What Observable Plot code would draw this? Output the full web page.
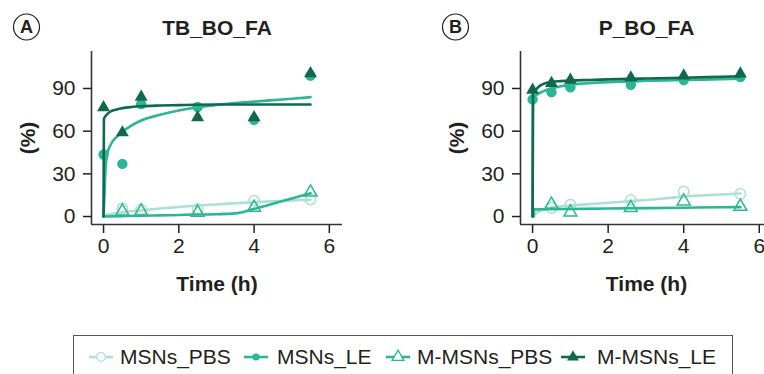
<!DOCTYPE html>
<html><head><meta charset="utf-8">
<script src="https://cdn.jsdelivr.net/npm/d3@7"></script>
<script src="https://cdn.jsdelivr.net/npm/@observablehq/plot@0.6"></script>
<style>
html,body{margin:0;padding:0;background:#fff;overflow:hidden;}
#root{position:relative;width:764px;height:374px;overflow:hidden;font-family:"Liberation Sans",Arial,sans-serif;color:#231f20;}
.panel{position:absolute;top:0;}
#legend{position:absolute;left:73px;top:335px;width:660px;height:60px;border:1px solid #555;box-sizing:border-box;}
.sw{position:absolute;top:349px;}
.lt{position:absolute;top:345px;font-size:21px;line-height:24px;white-space:nowrap;color:#231f20;}
</style>
</head><body>
<div id="root"><div id="legend"></div></div>
<script>
// ---- data ----
const seriesNames = ["MSNs_PBS", "MSNs_LE", "M-MSNs_PBS", "M-MSNs_LE"];
const seriesColors = ["#addfd2", "#2cb697", "#2cb697", "#10684d"];
const panelTitles = ["TB_BO_FA", "P_BO_FA"];
const panelLetters = ["A", "B"];
const xTicks = [0, 2, 4, 6];
const yTicks = [0, 30, 60, 90];

// measured points, panel A
const timeA = [0, 0.5, 1, 2.5, 4, 5.5];
const A_MSNs_PBS = [null, 5.6, 5.0, 5.3, 11.2, 12.0];
const A_MSNs_LE = [43.6, 37.0, 79.0, 77.0, 68.0, 99.0];
const A_M_MSNs_PBS = [null, 3.7, 3.7, 2.8, 6.3, 17.0];
const A_M_MSNs_LE = [76.6, 59.0, 84.0, 69.6, 69.6, 100.5];

// measured points, panel B
const timeB = [0, 0.5, 1, 2.6, 4, 5.5];
const B_MSNs_PBS = [null, 6.0, 8.4, 11.7, 17.6, 16.0];
const B_MSNs_LE = [82.3, 87.4, 90.9, 92.6, 96.0, 98.0];
const B_M_MSNs_PBS = [null, 8.4, 3.0, 6.1, 10.8, 7.0];
const B_M_MSNs_LE = [89.0, 93.7, 96.0, 97.5, 99.0, 100.3];

// fitted curves, panel A
const fitA_MSNs_PBS_t = [0, 0.5, 1, 1.5, 2, 2.5, 3, 3.5, 4, 4.5, 5, 5.5];
const fitA_MSNs_PBS_v = [0.8, 3.0, 4.3, 5.6, 6.7, 7.7, 8.5, 9.3, 10.0, 10.7, 11.3, 11.8];
const fitA_MSNs_LE_t = [0, 0.03, 0.05, 0.1, 0.2, 0.35, 0.5, 0.75, 1, 1.5, 2, 2.5, 3, 3.5, 4, 4.5, 5, 5.5];
const fitA_MSNs_LE_v = [0, 18, 32, 44, 51, 56, 59.5, 64, 67.5, 71.5, 74.5, 76.8, 78.5, 79.8, 80.8, 81.8, 82.8, 83.9];
const fitA_M_MSNs_PBS_t = [0, 0.5, 1, 1.5, 2, 2.5, 3, 3.5, 4, 4.5, 5, 5.5];
const fitA_M_MSNs_PBS_v = [0, 0.3, 0.5, 0.8, 1.1, 1.4, 1.6, 2.2, 5.4, 9.0, 12.7, 16.4];
const fitA_M_MSNs_LE_t = [0, 0.005, 0.01, 0.1, 0.2, 0.35, 0.5, 0.75, 1, 1.5, 2, 3, 4, 5.5];
const fitA_M_MSNs_LE_v = [0, 40, 68.7, 72, 74, 75.3, 76.2, 77, 77.5, 78, 78.3, 78.7, 78.7, 78.7];

// fitted curves, panel B
const fitB_MSNs_PBS_t = [0, 0.1, 0.25, 0.5, 1, 1.5, 2, 2.6, 3, 4, 5, 5.5];
const fitB_MSNs_PBS_v = [0, 2.5, 4.5, 6.3, 7.7, 8.7, 9.7, 10.8, 11.6, 14.0, 15.5, 16.2];
const fitB_MSNs_LE_t = [0, 0.005, 0.01, 0.1, 0.2, 0.35, 0.5, 0.75, 1, 1.5, 2, 2.6, 3, 4, 5, 5.5];
const fitB_MSNs_LE_v = [0, 40, 84, 85.5, 87, 88.8, 90, 91.6, 92.6, 93.8, 94.5, 95, 95.4, 96, 96.5, 96.8];
const fitB_M_MSNs_PBS_t = [0.03, 0.035, 0.04, 0.5, 1, 2, 3, 4, 5, 5.5];
const fitB_M_MSNs_PBS_v = [0, 2.5, 5, 5.2, 5.3, 5.6, 5.9, 6.2, 6.5, 6.6];
const fitB_M_MSNs_LE_t = [0, 0.005, 0.01, 0.1, 0.2, 0.35, 0.5, 0.75, 1, 1.5, 2, 3, 4, 5, 5.5];
const fitB_M_MSNs_LE_v = [0, 40, 86, 89.5, 92, 93.8, 94.6, 95.2, 95.6, 96, 96.4, 97, 97.6, 98.2, 98.5];

// ---- build ----
const font = '"Liberation Sans", Arial, sans-serif';
const ink = "#231f20";
const rows = (ts, vs) => ts.map((t, i) => ({t, v: vs[i]})).filter(d => d.v != null);
const symbols = ["circle", "circle", "triangle", "triangle"];
const filled = [false, true, false, true];
const radii = [5.2, 5.2, 4.8, 4.8];

function panel(title, letter, time, pts, fits, width, marginRight) {
  const xDomain = [-0.32, 6.35];
  const yDomain = [-5.6, 116];
  const order = [0, 2, 1, 3];
  const marks = [];
  for (const i of order) {
    const c = seriesColors[i];
    marks.push(Plot.line(rows(fits[i][0], fits[i][1]), {x: "t", y: "v", stroke: c, strokeWidth: 2.6, curve: "monotone-x"}));
    marks.push(Plot.dot(rows(time, pts[i]), {x: "t", y: "v", r: radii[i], symbol: symbols[i],
      fill: filled[i] ? c : "none", stroke: c, strokeWidth: filled[i] ? 0 : 1.5}));
  }
  marks.push(Plot.ruleX([xDomain[0]], {stroke: "#333", strokeWidth: 1.6}));
  marks.push(Plot.ruleY([yDomain[0]], {stroke: "#333", strokeWidth: 1.6}));
  const txt = {fill: ink, fontWeight: "bold", textAnchor: "middle", lineAnchor: "middle", text: d => d};
  marks.push(Plot.text([title], {...txt, frameAnchor: "top", dy: -23.7, fontSize: 21}));
  marks.push(Plot.text(["(%)"], {...txt, frameAnchor: "left", dx: -63.5, rotate: -90, fontSize: 21}));
  marks.push(Plot.text(["Time (h)"], {...txt, frameAnchor: "bottom", dy: 60, fontSize: 21}));
  marks.push(Plot.dot([letter], {frameAnchor: "top-left", dx: -65, dy: -24.5, r: 13, stroke: ink, strokeWidth: 1.2, fill: "none"}));
  marks.push(Plot.text([letter], {...txt, frameAnchor: "top-left", dx: -65, dy: -24, fontSize: 18}));
  return Plot.plot({
    width, height: 310,
    marginLeft: 91, marginRight, marginTop: 51, marginBottom: 86,
    style: {fontFamily: font, fontSize: "21px", color: ink, background: "transparent", overflow: "visible"},
    x: {domain: xDomain, ticks: xTicks, tickFormat: d => String(d), tickSize: 9, tickPadding: 5, label: null},
    y: {domain: yDomain, ticks: yTicks, tickFormat: d => String(d), tickSize: 8, tickPadding: 8, label: null},
    marks
  });
}

const root = document.getElementById("root");
const pA = panel(panelTitles[0], panelLetters[0], timeA,
  [A_MSNs_PBS, A_MSNs_LE, A_M_MSNs_PBS, A_M_MSNs_LE],
  [[fitA_MSNs_PBS_t, fitA_MSNs_PBS_v], [fitA_MSNs_LE_t, fitA_MSNs_LE_v],
   [fitA_M_MSNs_PBS_t, fitA_M_MSNs_PBS_v], [fitA_M_MSNs_LE_t, fitA_M_MSNs_LE_v]], 380, 38);
const pB = panel(panelTitles[1], panelLetters[1], timeB,
  [B_MSNs_PBS, B_MSNs_LE, B_M_MSNs_PBS, B_M_MSNs_LE],
  [[fitB_MSNs_PBS_t, fitB_MSNs_PBS_v], [fitB_MSNs_LE_t, fitB_MSNs_LE_v],
   [fitB_M_MSNs_PBS_t, fitB_M_MSNs_PBS_v], [fitB_M_MSNs_LE_t, fitB_M_MSNs_LE_v]], 343, 0);
pA.classList.add("panel"); pA.style.left = "0px";
pB.classList.add("panel"); pB.style.left = "429px";
root.appendChild(pA); root.appendChild(pB);
for (const ax of [pA, pB]) ax.querySelectorAll("[aria-label$='tick'] path, [aria-label$='tick'] line").forEach(e => e.setAttribute("stroke-width", "1.5"));

// legend
const swLeft = [88, 243, 385, 560];
const txtLeft = [120, 277, 417, 597];
seriesNames.forEach((name, i) => {
  const c = seriesColors[i];
  const sym = symbols[i] === "circle" ? d3.symbolCircle : d3.symbolTriangle;
  const size = Math.PI * (i === 1 ? 3.6 : 4.4) ** 2;
  const path = d3.symbol(sym, size)();
  const sw = document.createElement("div");
  sw.className = "sw"; sw.style.left = swLeft[i] + "px";
  sw.innerHTML = `<svg width="26" height="16"><line x1="1" x2="25" y1="8" y2="8" stroke="${c}" stroke-width="2.6"/>
    <path d="${path}" transform="translate(13,8)" fill="${filled[i] ? c : "#fff"}" stroke="${c}" stroke-width="${filled[i] ? 0 : 1.3}"/></svg>`;
  root.appendChild(sw);
  const t = document.createElement("div");
  t.className = "lt"; t.style.left = txtLeft[i] + "px"; t.textContent = name;
  root.appendChild(t);
});
</script>
</body></html>
